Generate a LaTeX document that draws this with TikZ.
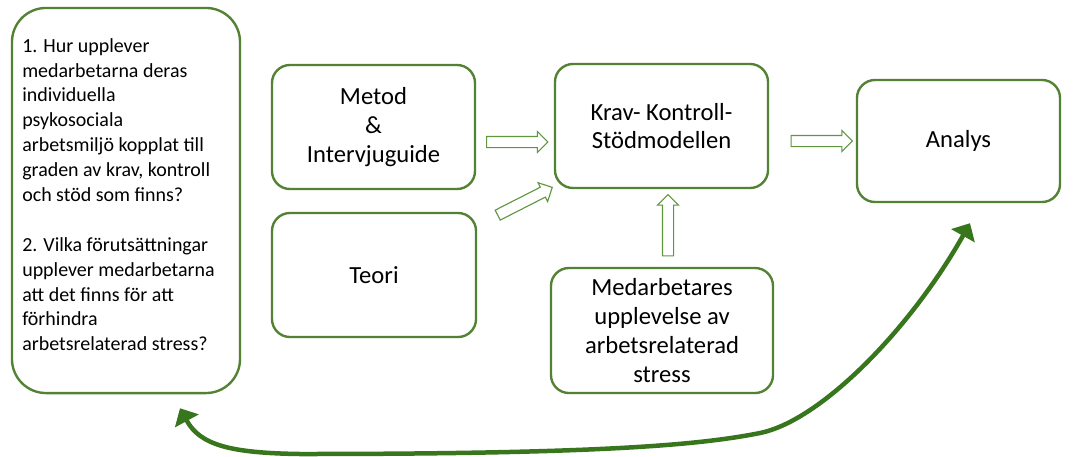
\documentclass[tikz,border=0pt]{standalone}
\usepackage{fontspec}
\setmainfont{Carlito}
\usepackage{tikz}
\usetikzlibrary{arrows.meta,positioning,calc,shapes.arrows}
\definecolor{boxgreen}{RGB}{84,130,53}
\definecolor{arrgreen}{RGB}{96,150,62}
\definecolor{curvegreen}{RGB}{56,118,29}

\begin{document}
\begin{tikzpicture}[x=0.025cm,y=-0.025cm,font=\fontsize{17.5}{20.5}\selectfont]
\useasboundingbox (0,0) rectangle (1073,456);
\tikzset{box/.style={draw=boxgreen,line width=1.7pt,rounded corners=0.45cm,align=center,inner sep=0pt}}
\tikzset{blockarr/.style={single arrow,draw=arrgreen,fill=white,line width=0.8pt,minimum height=1.53cm,
  single arrow head extend=0.125cm,inner xsep=0pt,inner ysep=0.125cm}}
\tikzset{backtip/.tip={Triangle[length=3.6mm,width=6.6mm]}}
% question box
\node[box,rounded corners=0.85cm,minimum width=5.7cm,minimum height=9.625cm] (lq) at (126,200.5) {};
\node[anchor=north west,align=left,inner sep=0pt,font=\fontsize{14.2}{17.7}\selectfont] (lqtext) at (22,38)
  {1. Hur upplever\\ medarbetarna deras\\ individuella\\ psykosociala\\ arbetsmiljö kopplat till\\
   graden av krav, kontroll\\ och stöd som finns?\\[17.7pt] 2. Vilka förutsättningar\\ upplever medarbetarna\\
   att det finns för att\\ förhindra\\ arbetsrelaterad stress?};
% boxes
\node[box,minimum width=5.075cm,minimum height=3.1cm] (metod) at (373.5,127) {Metod\\ \&\\ Intervjuguide};
\node[box,minimum width=5.1cm,minimum height=3.1cm] (teori) at (374,275) {Teori};
\node[box,minimum width=5.325cm,minimum height=3.1cm] (krav) at (661.5,126) {Krav- Kontroll-\\ Stödmodellen};
\node[box,minimum width=5.075cm,minimum height=3.05cm] (analys) at (958.5,141) {Analys};
\node[box,minimum width=5.55cm,minimum height=3.125cm] (med) at (662,330.5)
  {Medarbetares\\ upplevelse av\\ arbetsrelaterad\\ stress};
% block arrows
\node[blockarr] (a1) at (514.5,142) {};
\node[blockarr,rotate=27] (a2) at (522.5,202.5) {};
\node[blockarr,rotate=90] (a3) at (668,228) {};
\node[blockarr] (a4) at (819,141) {};
% feedback curve
\coordinate (antip) at ($(analys.south)+(11.5,20)$);
\coordinate (lqtip) at ($(lq.south)+(54,14)$);
\draw[curvegreen,line width=3.2pt,backtip-backtip]
  (lqtip) .. controls (200,445) and (230,453) .. (300,454)
  .. controls (600,454) and (700,445) .. (760,433)
  .. controls (820,421) and (910,330) .. (antip);
\end{tikzpicture}
\end{document}
